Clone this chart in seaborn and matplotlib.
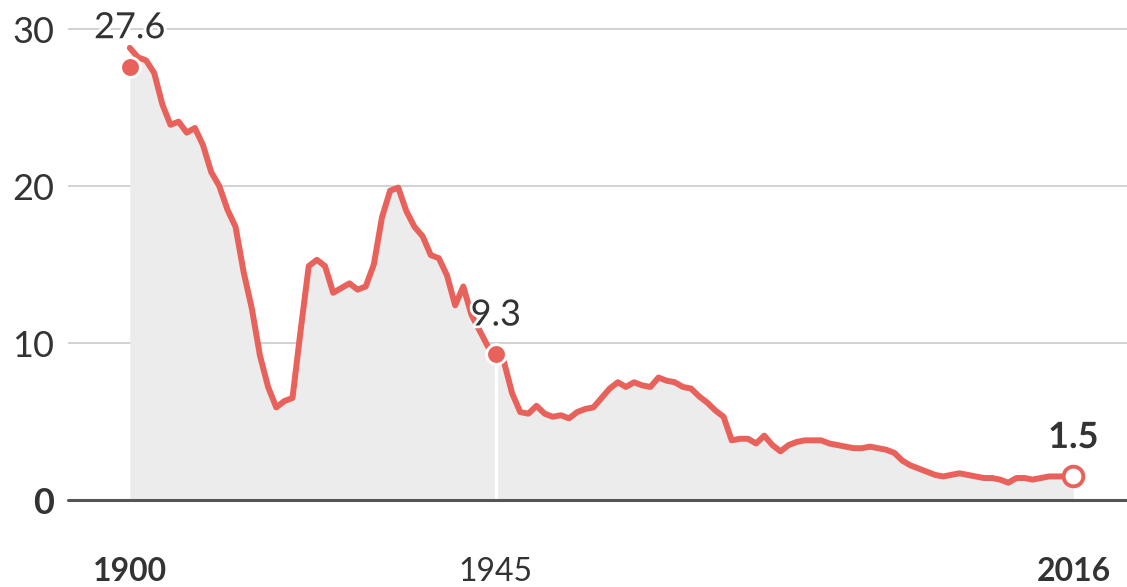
import matplotlib
matplotlib.use("Agg")
import matplotlib.pyplot as plt
import matplotlib.patheffects as pe
import numpy as np
import pandas as pd
import seaborn as sns

years = list(range(1900, 2017))
values = [
    28.8, 28.2, 28.0, 27.2, 25.2, 23.9, 24.1, 23.4, 23.7, 22.6,
    20.9, 20.0, 18.5, 17.4, 14.5, 12.2, 9.2, 7.2, 5.9, 6.3,
    6.5, 10.8, 14.9, 15.3, 14.9, 13.2, 13.5, 13.8, 13.4, 13.6,
    15.0, 18.0, 19.7, 19.9, 18.4, 17.4, 16.8, 15.6, 15.4, 14.3,
    12.4, 13.6, 11.8, 10.8, 9.8, 9.3, 8.8, 6.8, 5.6, 5.5,
    6.0, 5.5, 5.3, 5.4, 5.2, 5.6, 5.8, 5.9, 6.5, 7.1,
    7.5, 7.2, 7.5, 7.3, 7.2, 7.8, 7.6, 7.5, 7.2, 7.1,
    6.6, 6.2, 5.7, 5.3, 3.8, 3.9, 3.9, 3.6, 4.1, 3.5,
    3.1, 3.5, 3.7, 3.8, 3.8, 3.8, 3.6, 3.5, 3.4, 3.3,
    3.3, 3.4, 3.3, 3.2, 3.0, 2.5, 2.2, 2.0, 1.8, 1.6,
    1.5, 1.6, 1.7, 1.6, 1.5, 1.4, 1.4, 1.3, 1.1, 1.4,
    1.4, 1.3, 1.4, 1.5, 1.5, 1.5, 1.5,
]

# highlighted points
marker_years = [1900, 1945, 2016]
marker_values = [27.6, 9.3, 1.5]
marker_labels = ["27.6", "9.3", "1.5"]

y_ticks = [0, 10, 20, 30]
x_ticks = [1900, 1945, 2016]

LINE = "#e8625b"
FILL = "#ececec"
GRID = "#cfcfcf"
TEXT = "#333333"

sns.set_theme(style="white")
plt.rcParams["font.family"] = ["Lato", "DejaVu Sans"]

df = pd.DataFrame({"year": years, "value": values})

fig = plt.figure(figsize=(11.27, 5.87), dpi=100)
ax = fig.add_axes([68 / 1127, 87 / 587, 1 - 68 / 1127, 500 / 587])

for t in y_ticks[1:]:
    ax.axhline(t, color=GRID, lw=1.3, zorder=0)

ax.fill_between(df["year"], df["value"], 0, color=FILL, lw=0, zorder=1)
ax.vlines(1945, 0, 9.3, color="white", lw=2.4, zorder=2)
sns.lineplot(data=df, x="year", y="value", color=LINE, lw=4.3, ax=ax, zorder=3)
ax.axhline(0, color="#555555", lw=2.2, zorder=4, clip_on=False)

for yr, val, lab in zip(marker_years, marker_values, marker_labels):
    hollow = yr == 2016
    ax.scatter([yr], [val], s=200, zorder=5, clip_on=False,
               color="white" if hollow else LINE,
               edgecolor=LINE if hollow else "white",
               linewidth=2.8 if hollow else 2.0)
    ax.annotate(lab, (yr, val), xytext=(0, 39), textcoords="offset pixels",
                ha="center", va="center", fontsize=26, color=TEXT,
                fontweight="bold" if hollow else "normal", zorder=6,
                path_effects=[pe.withStroke(linewidth=4, foreground="white")])

ax.set_xlim(1892.4, 2022.6)
ax.set_ylim(0, 31.85)
ax.set_yticks(y_ticks)
ax.set_yticklabels([str(t) for t in y_ticks])
ax.set_xticks(x_ticks)
ax.set_xticklabels([str(t) for t in x_ticks])
ax.tick_params(axis="y", length=0, pad=10, labelsize=26, labelcolor=TEXT)
ax.tick_params(axis="x", length=0, pad=41, labelsize=23, labelcolor=TEXT)
for lab in ax.get_yticklabels():
    if lab.get_text() == "0":
        lab.set_fontweight("bold")
for lab in ax.get_xticklabels():
    if lab.get_text() != "1945":
        lab.set_fontweight("bold")

ax.set_xlabel("")
ax.set_ylabel("")
sns.despine(ax=ax, left=True, bottom=True)

fig.savefig("out.png", dpi=100)
